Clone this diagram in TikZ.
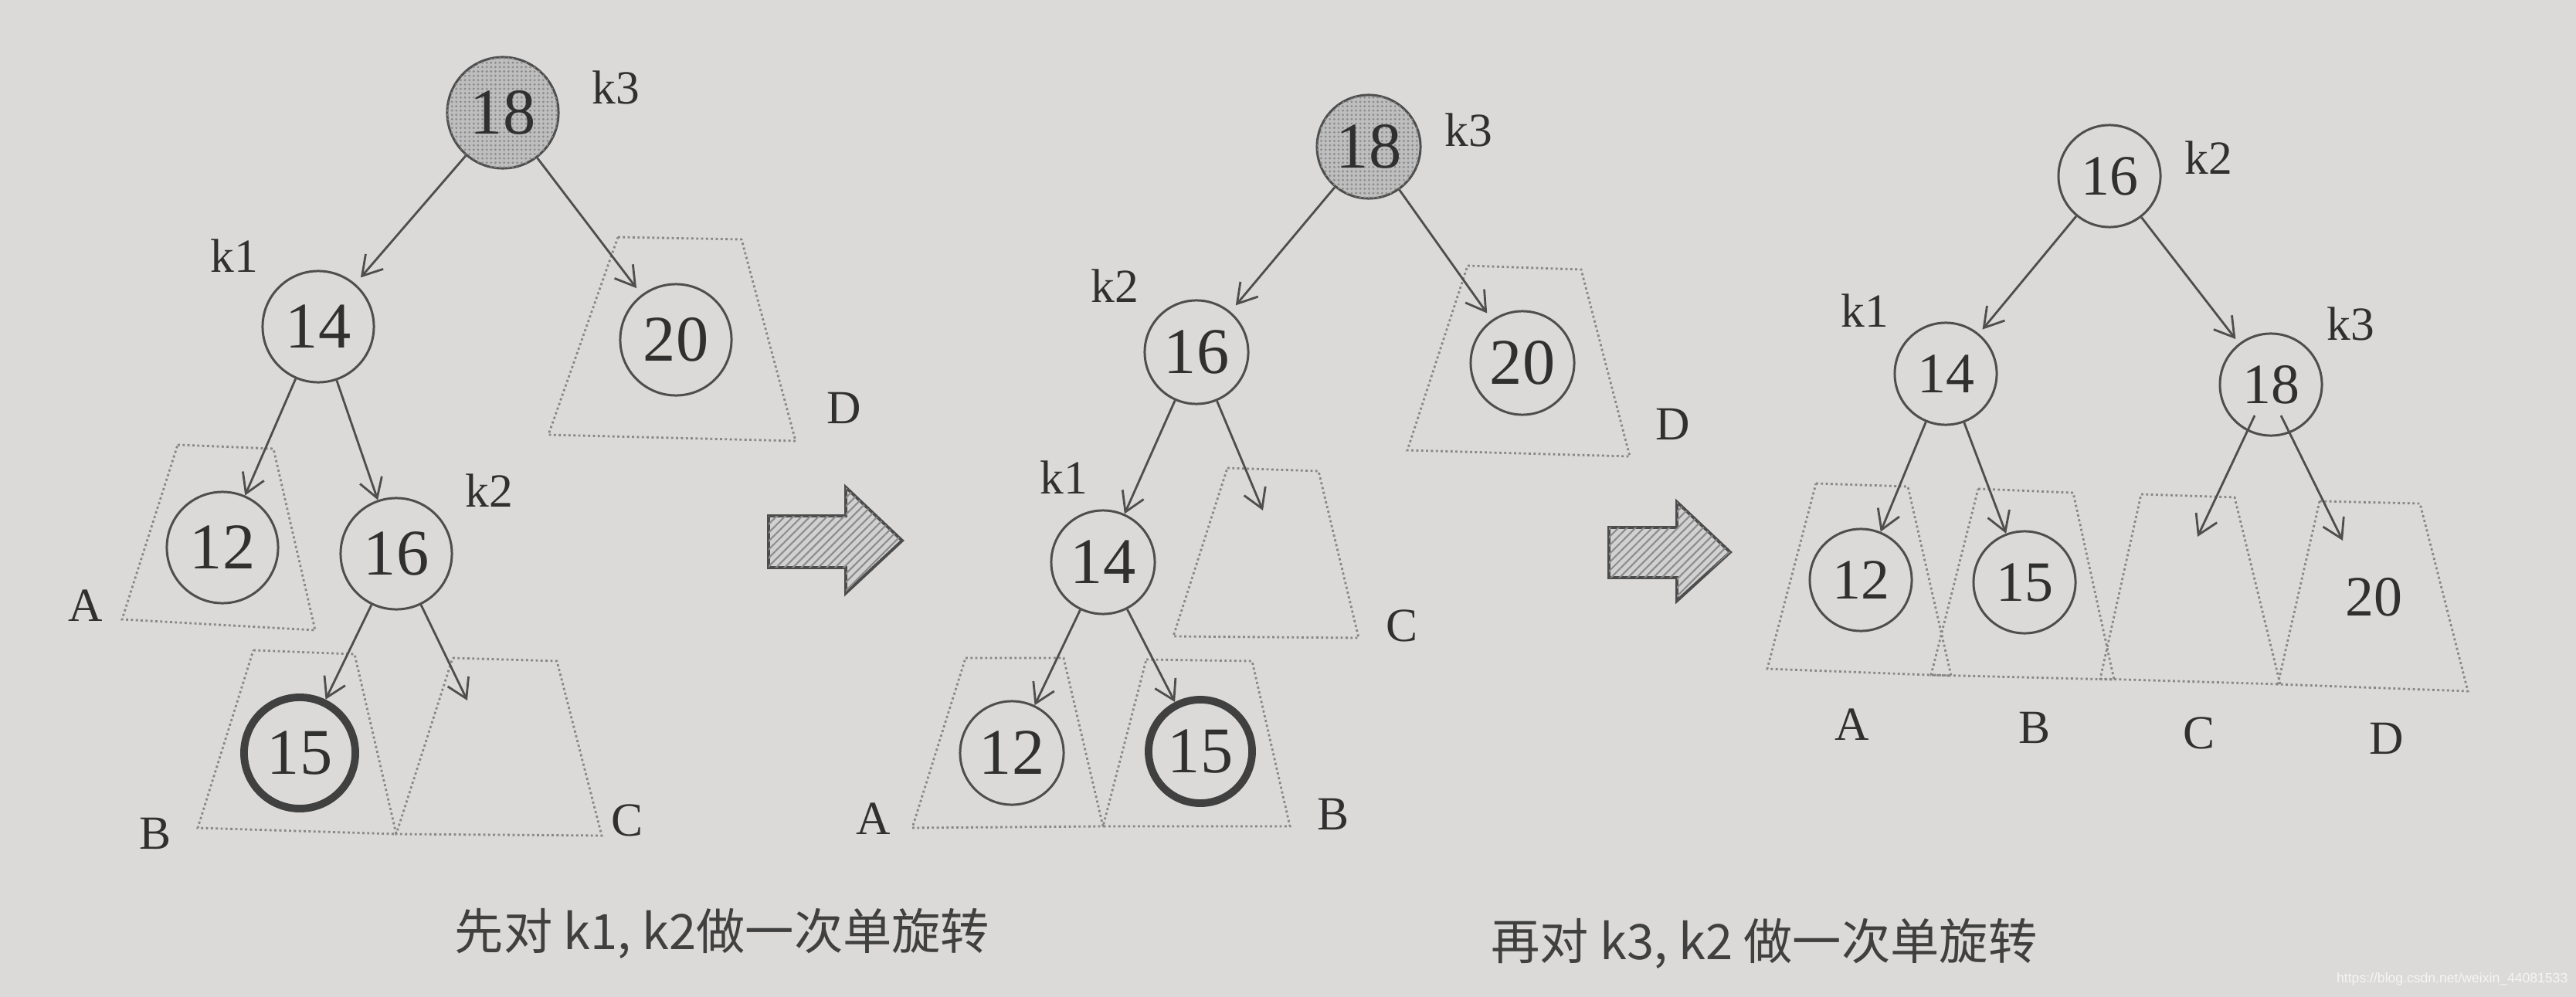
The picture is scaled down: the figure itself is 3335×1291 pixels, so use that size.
\documentclass[tikz,border=0pt]{standalone}
\usepackage{fontspec}
\setmainfont{Liberation Serif}
\newfontfamily\cjk{Noto Sans CJK SC}
\newfontfamily\wmfont{Liberation Sans}
\usetikzlibrary{arrows.meta,patterns.meta}
\definecolor{paper}{RGB}{219,218,216}
\definecolor{ink}{RGB}{78,78,78}
\definecolor{txt}{RGB}{48,48,48}
\definecolor{captc}{RGB}{64,64,64}
\definecolor{dotc}{RGB}{135,135,135}
\definecolor{shade}{RGB}{190,190,190}
\begin{document}
\begin{tikzpicture}[x=0.01cm,y=-0.01cm,
  nd/.style={circle,draw=ink,line width=0.85pt,inner sep=0pt,text=txt},
  pa/.style={nd,minimum size=1.44cm,font=\fontsize{24}{24}\selectfont},
  pb/.style={nd,minimum size=1.34cm,font=\fontsize{24}{24}\selectfont},
  pc/.style={nd,minimum size=1.32cm,font=\fontsize{21}{21}\selectfont},
  hot/.style={fill=shade,postaction={pattern={Dots[distance=1.6pt,radius=0.45pt]},pattern color=black!45}},
  heavy/.style={line width=2.8pt,draw=black!75},
  lbl/.style={inner sep=0pt,text=txt,font=\fontsize{17.5}{18}\selectfont},
  lnk/.style={draw=ink,line width=0.8pt,-{Straight Barb[length=7pt,width=8.5pt,line width=0.8pt]}},
  trap/.style={draw=dotc,line width=0.8pt,dash pattern=on 0.8pt off 1pt},
  bigarrow/.style={draw=black!70,line width=1.1pt,fill=black!18,
     postaction={pattern={Lines[angle=45,distance=2.2pt,line width=0.6pt]},pattern color=black!45}},
  captxt/.style={inner sep=0pt,text=captc,font=\cjk\fontsize{18}{18}\selectfont}
]
\useasboundingbox (0,0) rectangle (3335,1291);
\fill[paper] (0,0) rectangle (3335,1291);

% ---------------- panel 1 ----------------
\draw[trap] (800,307) -- (960,310) -- (1030,571) -- (710,563) -- cycle;
\draw[trap] (230,576) -- (354,581) -- (408,816) -- (158,802) -- cycle;
\draw[trap] (328,842) -- (459,847) -- (513,1080) -- (256,1072) -- cycle;
\draw[trap] (586,852) -- (721,856) -- (779,1082) -- (513,1080) -- cycle;

\node[pa,hot] (a18) at (651,146) {18};
\node[pa] (a14) at (412,423) {14};
\node[pa] (a20) at (875,440) {20};
\node[pa] (a12) at (288,709) {12};
\node[pa] (a16) at (513,717) {16};
\node[pa,heavy] (a15) at (388,975) {15};
\coordinate (a16c) at (605,907);

\node[lbl] (ak3) at (797,113) {k3};
\node[lbl] (ak1) at (303,331) {k1};
\node[lbl] (ak2) at (633,635) {k2};
\node[lbl] (aA) at (111,784) {A};
\node[lbl] (aB) at (201,1079) {B};
\node[lbl] (aC) at (812,1062) {C};
\node[lbl] (aD) at (1093,528) {D};

\draw[lnk,shorten >=3pt] (a18) -- (a14);
\draw[lnk,shorten >=3pt] (a18) -- (a20);
\draw[lnk] (a14) -- (a12);
\draw[lnk] (a14) -- (a16);
\draw[lnk] (a16) -- (a15);
\draw[lnk] (a16) -- (a16c);

% big arrow 1
\draw[bigarrow] (995,668) -- (1095,668) -- (1095,631) -- (1168,700) -- (1095,768) -- (1095,735) -- (995,735) -- cycle;

% ---------------- panel 2 ----------------
\draw[trap] (1900,344) -- (2047,349) -- (2110,591) -- (1822,583) -- cycle;
\draw[trap] (1589,606) -- (1707,610) -- (1759,826) -- (1519,824) -- cycle;
\draw[trap] (1250,852) -- (1377,852) -- (1428,1070) -- (1181,1072) -- cycle;
\draw[trap] (1484,854) -- (1621,856) -- (1670,1070) -- (1428,1070) -- cycle;

\node[pb,hot] (b18) at (1772,190) {18};
\node[pb] (b16) at (1549,456) {16};
\node[pb] (b20) at (1971,470) {20};
\node[pb] (b14) at (1428,728) {14};
\node[pb] (b12) at (1310,975) {12};
\node[pb,heavy] (b15) at (1554,973) {15};
\coordinate (b16c) at (1635,661);

\node[lbl] (bk3) at (1901,168) {k3};
\node[lbl] (bk2) at (1443,370) {k2};
\node[lbl] (bk1) at (1377,618) {k1};
\node[lbl] (bC) at (1815,810) {C};
\node[lbl] (bD) at (2166,549) {D};
\node[lbl] (bA) at (1131,1060) {A};
\node[lbl] (bB) at (1726,1054) {B};

\draw[lnk,shorten >=3pt] (b18) -- (b16);
\draw[lnk,shorten >=3pt] (b18) -- (b20);
\draw[lnk] (b16) -- (b14);
\draw[lnk] (b16) -- (b16c);
\draw[lnk] (b14) -- (b12);
\draw[lnk] (b14) -- (b15);

% big arrow 2
\draw[bigarrow] (2083,683) -- (2171,683) -- (2171,650) -- (2240,715) -- (2171,778) -- (2171,748) -- (2083,748) -- cycle;

% ---------------- panel 3 ----------------
\draw[trap] (2351,626) -- (2470,630) -- (2526,875) -- (2288,866) -- cycle;
\draw[trap] (2561,633) -- (2684,638) -- (2737,880) -- (2500,874) -- cycle;
\draw[trap] (2772,640) -- (2893,644) -- (2952,886) -- (2719,879) -- cycle;
\draw[trap] (3003,649) -- (3133,652) -- (3195,895) -- (2949,886) -- cycle;

\node[pc] (c16) at (2731,228) {16};
\node[pc] (c14) at (2519,484) {14};
\node[pc] (c18) at (2940,498) {18};
\node[pc] (c12) at (2409,751) {12};
\node[pc] (c15) at (2621,754) {15};
\node[inner sep=0pt,text=txt,font=\fontsize{21}{21}\selectfont] (c20) at (3073,773) {20};
\coordinate (c18l) at (2919,538);
\coordinate (c18r) at (2953,538);
\coordinate (c18lc) at (2845,695);
\coordinate (c18rd) at (3033,700);

\node[lbl] (ck2) at (2859,204) {k2};
\node[lbl] (ck1) at (2414,402) {k1};
\node[lbl] (ck3) at (3043,419) {k3};
\node[lbl] (cA) at (2398,938) {A};
\node[lbl] (cB) at (2634,942) {B};
\node[lbl] (cC) at (2847,949) {C};
\node[lbl] (cD) at (3090,956) {D};

\draw[lnk,shorten >=2pt] (c16) -- (c14);
\draw[lnk,shorten >=2pt] (c16) -- (c18);
\draw[lnk] (c14) -- (c12);
\draw[lnk] (c14) -- (c15);
\draw[lnk] (c18l) -- (c18lc);
\draw[lnk] (c18r) -- (c18rd);

% ---------------- captions ----------------
\node[captxt] (cap1) at (935,1209) {先对 k1, k2做一次单旋转};
\node[captxt] (cap2) at (2284,1222) {再对 k3, k2 做一次单旋转};
\node[inner sep=0pt,text=white!92!gray,font=\wmfont\fontsize{5}{5}\selectfont,anchor=east] (wm) at (3325,1268) {https://blog.csdn.net/weixin\_44081533};
\end{tikzpicture}
\end{document}
